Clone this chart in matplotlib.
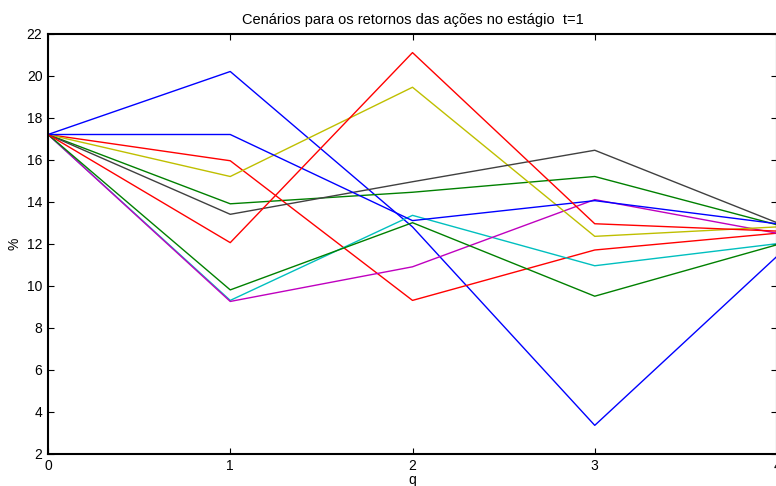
import numpy as np
import matplotlib
matplotlib.use('Agg')
import matplotlib.pyplot as plt
from matplotlib import rc

rc('font', **{'family': 'sans-serif', 'sans-serif': ['Liberation Sans'], 'size': 10})

# estagios (eixo q) e cenarios de retorno (%)
q = [0, 1, 2, 3, 4]
cen_1 = [17.2, 20.2, 12.8, 3.35, 11.4]
cen_2 = [17.2, 13.9, 14.45, 15.2, 12.9]
cen_3 = [17.2, 15.95, 9.3, 11.7, 12.5]
cen_4 = [17.2, 9.3, 13.35, 10.95, 12.0]
cen_5 = [17.2, 9.25, 10.9, 14.1, 12.5]
cen_6 = [17.2, 15.2, 19.45, 12.35, 12.8]
cen_7 = [17.2, 13.4, 14.95, 16.45, 13.0]
cen_8 = [17.2, 17.2, 13.1, 14.05, 12.95]
cen_9 = [17.2, 9.8, 13.0, 9.5, 11.95]
cen_10 = [17.2, 12.05, 21.1, 12.95, 12.6]

cenarios = [cen_1, cen_2, cen_3, cen_4, cen_5, cen_6, cen_7, cen_8, cen_9, cen_10]
cores = [(0, 0, 1), (0, 0.5, 0), (1, 0, 0), (0, 0.75, 0.75), (0.75, 0, 0.75),
         (0.75, 0.75, 0), (0.25, 0.25, 0.25)]

fig = plt.figure(figsize=(7.76, 4.86), dpi=100)
ax = fig.add_axes([48 / 776, 1 - 453.7 / 486, 729 / 776, 420 / 486])

for i, c in enumerate(cenarios):
    ax.plot(q, c, color=cores[i % len(cores)], linewidth=1.0)

ax.set_xlim(0, 4)
ax.set_ylim(2, 22)
ax.set_xticks(q)
ax.set_yticks(np.arange(2, 23, 2))
ax.tick_params(direction='in', top=True, right=True, length=4, width=0.8,
               labelsize=10, pad=4)
for s in ax.spines.values():
    s.set_linewidth(1.5)

ax.set_title('Cenários para os retornos das ações no estágio  t=1', fontsize=10.5, pad=7)
ax.set_xlabel('q', fontsize=10, labelpad=0)
ax.set_ylabel('%', fontsize=10, labelpad=4)

fig.savefig('out.png', dpi=100)
